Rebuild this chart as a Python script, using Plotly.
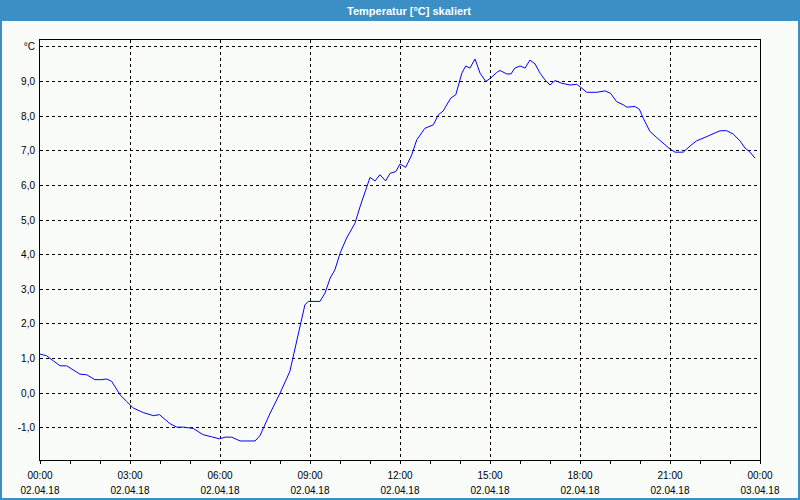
import plotly.graph_objects as go

hours = [0.0, 0.22, 0.45, 0.67, 0.89, 1.1, 1.33, 1.56, 1.83, 2.06, 2.22, 2.39, 2.67, 2.89,
         3.11, 3.44, 3.78, 3.98, 4.11, 4.33, 4.56, 4.78, 5.11, 5.44, 5.72, 5.98, 6.17, 6.39,
         6.67, 7.17, 7.33, 7.44, 7.67, 8.0, 8.33, 8.42, 8.56, 8.69, 8.83, 8.94, 9.33, 9.5,
         9.67, 9.83, 10.0, 10.22, 10.5, 10.67, 10.89, 11.0, 11.17, 11.33, 11.52, 11.67, 11.86,
         12.0, 12.19, 12.39, 12.56, 12.83, 13.11, 13.28, 13.44, 13.69, 13.86, 14.0, 14.06,
         14.19, 14.33, 14.5, 14.67, 14.86, 15.02, 15.22, 15.33, 15.56, 15.7, 15.83, 16.0,
         16.17, 16.33, 16.5, 16.67, 16.83, 17.0, 17.17, 17.39, 17.67, 17.89, 18.06, 18.22,
         18.56, 18.83, 19.02, 19.22, 19.44, 19.56, 19.83, 19.98, 20.11, 20.33, 20.56, 20.78,
         21.0, 21.17, 21.44, 21.67, 21.89, 22.17, 22.44, 22.67, 22.89, 23.11, 23.33, 23.5,
         23.67, 23.83]
temps = [1.13, 1.08, 0.93, 0.79, 0.79, 0.68, 0.55, 0.53, 0.39, 0.39, 0.41, 0.34, -0.05, -0.24,
         -0.43, -0.56, -0.65, -0.62, -0.72, -0.88, -0.98, -0.98, -1.02, -1.20, -1.26, -1.32,
         -1.27, -1.27, -1.38, -1.38, -1.23, -1.01, -0.58, 0.0, 0.63, 0.98, 1.54, 2.02, 2.55,
         2.65, 2.65, 2.89, 3.32, 3.56, 4.04, 4.48, 4.91, 5.39, 5.97, 6.23, 6.13, 6.31, 6.13,
         6.35, 6.40, 6.62, 6.52, 6.88, 7.32, 7.65, 7.75, 8.04, 8.15, 8.52, 8.62, 9.10, 9.24,
         9.45, 9.39, 9.65, 9.24, 9.00, 9.10, 9.26, 9.32, 9.22, 9.22, 9.39, 9.45, 9.39, 9.62,
         9.51, 9.24, 9.05, 8.90, 9.03, 8.95, 8.90, 8.92, 8.81, 8.69, 8.69, 8.73, 8.66, 8.42,
         8.33, 8.26, 8.28, 8.20, 7.94, 7.56, 7.38, 7.20, 7.05, 6.96, 6.96, 7.14, 7.29, 7.39,
         7.48, 7.58, 7.58, 7.48, 7.29, 7.08, 6.96, 6.79]

x_tick_vals = [0, 3, 6, 9, 12, 15, 18, 21, 24]
x_time_labels = ["00:00", "03:00", "06:00", "09:00", "12:00", "15:00", "18:00", "21:00", "00:00"]
x_date_labels = ["02.04.18"] * 8 + ["03.04.18"]
x_minor_vals = list(range(0, 25))
y_tick_vals = [-1, 0, 1, 2, 3, 4, 5, 6, 7, 8, 9, 10]
y_tick_labels = ["-1,0", "0,0", "1,0", "2,0", "3,0", "4,0", "5,0", "6,0", "7,0", "8,0", "9,0", "°C"]

title_text = "Temperatur [°C] skaliert"

BG = "#FAFCFA"
BLUE = "#3C8FC5"
FONT = "Liberation Sans"

fig = go.Figure()
fig.add_trace(go.Scatter(x=hours, y=temps, mode="lines",
                         line=dict(color="#0000FF", width=1), hoverinfo="skip",
                         showlegend=False))
# invisible companion trace for the date label axis
fig.add_trace(go.Scatter(x=hours, y=temps, mode="lines", xaxis="x2",
                         line=dict(color="rgba(0,0,0,0)", width=0), hoverinfo="skip",
                         showlegend=False))

fig.update_layout(
    width=800, height=500,
    margin=dict(l=40, r=40, t=40, b=40),
    paper_bgcolor=BG, plot_bgcolor=BG,
    font=dict(family=FONT, size=10, color="#000000"),
    xaxis=dict(
        range=[0, 24], tickmode="array", tickvals=x_tick_vals, ticktext=x_time_labels,
        showgrid=True, gridcolor="#000000", gridwidth=1, griddash="3px,3px",
        showline=True, linecolor="#000000", linewidth=1, mirror=True,
        ticks="outside", ticklen=3, tickcolor="#000000", zeroline=False,
        ticklabelstandoff=3, automargin=False,
        minor=dict(tickmode="array", tickvals=x_minor_vals, ticks="outside", ticklen=3,
                   tickcolor="#000000", showgrid=False),
        fixedrange=True,
    ),
    xaxis2=dict(
        range=[0, 24], tickmode="array", tickvals=x_tick_vals, ticktext=x_date_labels,
        overlaying="x", side="bottom", anchor="y", showgrid=False, showline=False,
        zeroline=False, ticks="", ticklabelstandoff=23, automargin=False, fixedrange=True,
    ),
    yaxis=dict(
        range=[-1.93, 10.2], tickmode="array", tickvals=y_tick_vals, ticktext=y_tick_labels,
        showgrid=True, gridcolor="#000000", gridwidth=1, griddash="3px,3px",
        showline=True, linecolor="#000000", linewidth=1, mirror=True,
        ticks="", zeroline=False, ticklabelstandoff=2, automargin=False, fixedrange=True,
    ),
    shapes=[
        dict(type="rect", xref="paper", yref="paper", x0=-40/720, x1=1+40/720,
             y0=1+19/420, y1=1+40/420, fillcolor=BLUE, line=dict(width=0), layer="above"),
        dict(type="line", xref="paper", yref="paper", x0=-39/720, x1=-39/720,
             y0=-40/420, y1=1+40/420, line=dict(color=BLUE, width=2)),
        dict(type="line", xref="paper", yref="paper", x0=1+39/720, x1=1+39/720,
             y0=-40/420, y1=1+40/420, line=dict(color=BLUE, width=2)),
        dict(type="line", xref="paper", yref="paper", x0=-40/720, x1=1+40/720,
             y0=-39/420, y1=-39/420, line=dict(color=BLUE, width=2)),
    ],
    annotations=[
        dict(text="<b>" + title_text + "</b>", xref="paper", yref="paper",
             x=(409-40)/720, y=1+29.5/420, xanchor="center", yanchor="middle",
             showarrow=False, font=dict(family=FONT, size=11, color="#FFFFFF")),
    ],
)

fig.write_html("out.html")
